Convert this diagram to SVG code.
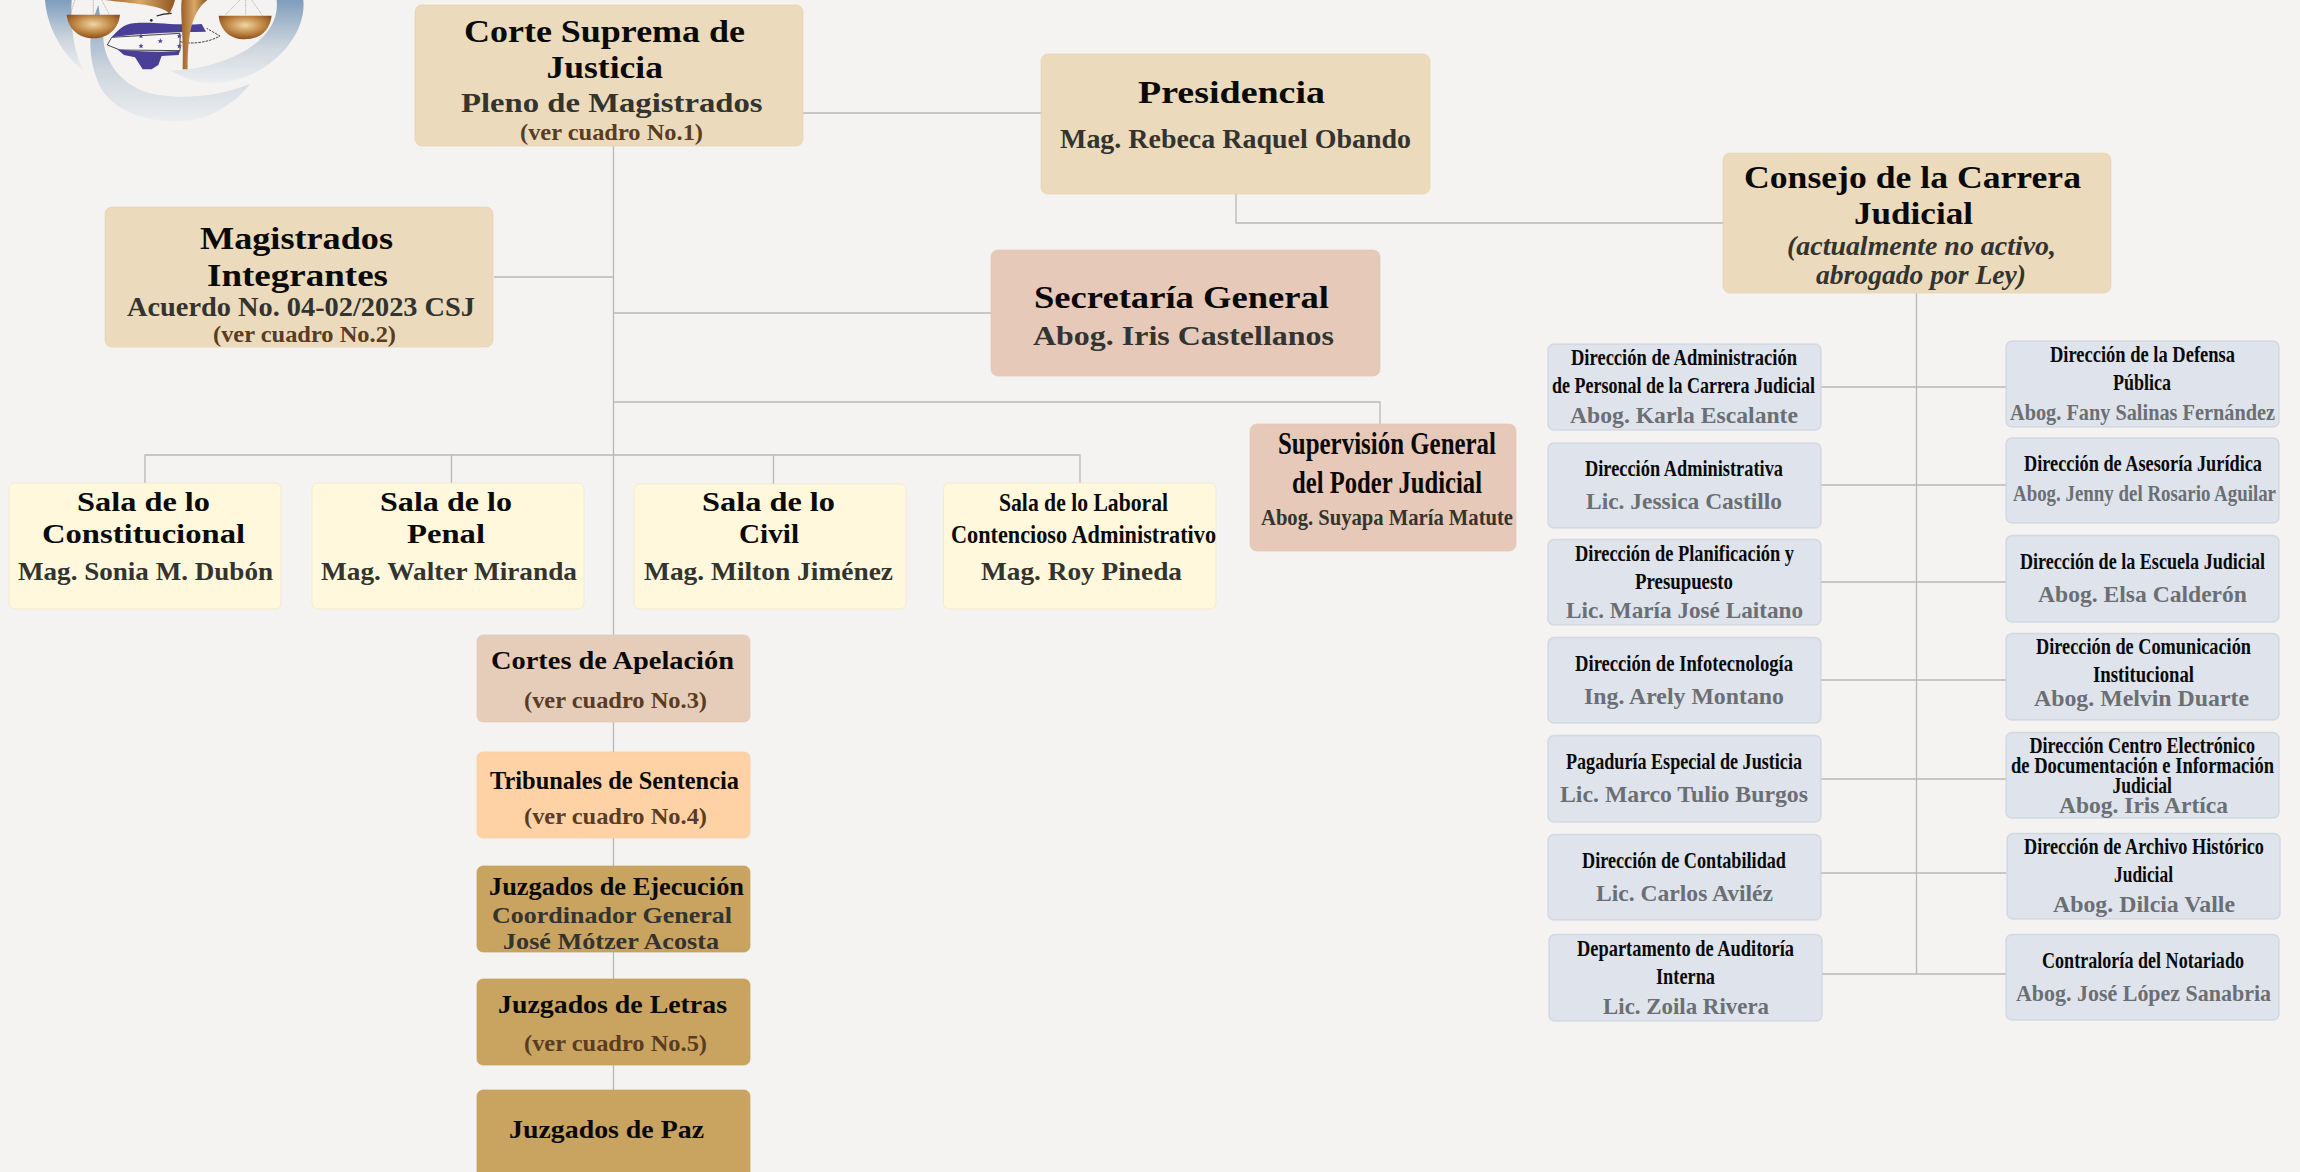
<svg xmlns="http://www.w3.org/2000/svg" width="2300" height="1172" viewBox="0 0 2300 1172">
<style>
text{font-family:"Liberation Serif",serif;font-weight:700}
.box{stroke-width:1;stroke-opacity:.7}
.tan{fill:#ebdabb;stroke:#e5d3b0}
.rose{fill:#e6c9b8;stroke:#e2c5b4}
.yel{fill:#fff8dc;stroke:#efe6c4}
.cor{fill:#e6cdb9;stroke:#e2c9b5}
.tri{fill:#ffd2a6;stroke:#f9cc9f}
.juz{fill:#c9a360;stroke:#c49e5b}
.blu{fill:#dfe4ec;stroke:#c9d0da;stroke-width:1.5}
.t{fill:#0a0a0a}
.xl{font-size:32px}.l{font-size:28px}.m{font-size:26px}.s{font-size:23px}
.sub{fill:#333330}
.ver{fill:#5a3c22}
.nm{fill:#6b6f74}
.it{font-style:italic;fill:#333330;font-size:27px}
#connectors path{fill:none;stroke:#b8b8b8;stroke-width:1.3}
</style>
<defs>
<linearGradient id="sw" x1="0" y1="0" x2="0" y2="1"><stop offset="0" stop-color="#7f9dbd"/><stop offset="0.55" stop-color="#ccd5dd"/><stop offset="1" stop-color="#eceef0"/></linearGradient>
<radialGradient id="pan" cx="0.5" cy="0.4" r="0.6"><stop offset="0" stop-color="#f0d5a4"/><stop offset="0.6" stop-color="#bd8340"/><stop offset="1" stop-color="#8a4f1e"/></radialGradient>
<linearGradient id="br" x1="0" y1="0" x2="1" y2="0"><stop offset="0" stop-color="#9a5f26"/><stop offset="0.5" stop-color="#d9a766"/><stop offset="1" stop-color="#8f5522"/></linearGradient>
<polygon id="st" points="0,-8 2.2,-2.5 8,-2.5 3.4,1 5,7 0,3.5 -5,7 -3.4,1 -8,-2.5 -2.2,-2.5" fill="#4a3f96"/>
</defs>
<rect width="2300" height="1172" fill="#f4f3f1"/>

<g id="logo" transform="translate(20,0) scale(0.3333)">
<path d="M75,0C80,80 130,170 192,212C165,170 150,80 155,0Z" fill="url(#sw)"/>
<path d="M770,0H850C862,110 740,250 570,250C520,250 480,225 450,212C600,210 785,130 770,0Z" fill="url(#sw)"/>
<path d="M235,15C205,90 200,170 240,260C290,350 420,375 520,360C600,345 660,290 690,252C600,290 470,300 390,280C290,250 250,170 250,110Z" fill="url(#sw)"/>
<path d="M165,0L150,44M220,0V44M245,0L268,44M660,0L615,46M677,0V46M695,0L727,46" stroke="#777" stroke-width="1.5" stroke-dasharray="3 2" fill="none"/>
<path d="M480,125C520,135 570,125 600,108L560,85" fill="none" stroke="#222" stroke-width="2.5" stroke-dasharray="8 3"/>
<path d="M262,135L275,112L480,100V152L300,150Z" fill="#f7f6f4" stroke="#222" stroke-width="2.5"/>
<path d="M275,112C295,90 312,72 340,70C400,64 460,78 545,72L558,95C470,96 370,98 275,112Z" fill="#4a3f96"/>
<path d="M292,148C350,155 420,158 480,152L476,165L425,168L415,195L395,208L368,208L345,172L312,165Z" fill="#4a3f96"/>
<use href="#st" x="363" y="108"/><use href="#st" x="363" y="138"/><use href="#st" x="421" y="123"/><use href="#st" x="478" y="108"/><use href="#st" x="478" y="138"/>
<path d="M410,48c15,-6 25,-8 45,-8" fill="none" stroke="#222" stroke-width="4"/>
<circle cx="394" cy="61" r="4" fill="#222"/>
<path d="M255,0H465C460,20 452,35 448,42C435,15 330,10 255,0Z" fill="url(#br)"/>
<path d="M488,208H503C503,120 510,40 562,0H485C480,40 492,120 488,208Z" fill="url(#br)"/>
<path d="M140,44H300C295,90 260,115 220,115C180,115 145,90 140,44Z" fill="url(#pan)"/>
<path d="M596,47H755C750,90 720,118 675,118C630,118 600,90 596,47Z" fill="url(#pan)"/>
</g>

<g id="connectors">
<path d="M613.5,146V1090"/>
<path d="M803,113H1041"/>
<path d="M494,277H613"/>
<path d="M613,313H991"/>
<path d="M613,402H1380V424"/>
<path d="M145,483V455H1080V483"/>
<path d="M451.5,455V483M773.5,455V484"/>
<path d="M1236,194V223H1723"/>
<path d="M1916.5,293V974"/>
<path d="M1821,387H2006M1821,485H2006M1821,582H2006M1821,680H2006M1821,779H2006M1821,873H2006M1822,974H2006"/>
</g>

<g id="corte"><rect class="box tan" x="415" y="5" width="388" height="141" rx="7"/>
<text class="t xl" x="464" y="42" textLength="281" lengthAdjust="spacingAndGlyphs">Corte Suprema de</text>
<text class="t xl" x="546.5" y="78" textLength="116.5" lengthAdjust="spacingAndGlyphs">Justicia</text>
<text class="sub l" x="461" y="112" textLength="301.5" lengthAdjust="spacingAndGlyphs">Pleno de Magistrados</text>
<text class="ver s" x="520" y="140" textLength="183" lengthAdjust="spacingAndGlyphs">(ver cuadro No.1)</text></g>

<g id="presidencia"><rect class="box tan" x="1041" y="54" width="389" height="140" rx="7"/>
<text class="t xl" x="1138" y="103" textLength="187" lengthAdjust="spacingAndGlyphs">Presidencia</text>
<text class="sub l" x="1060" y="148" textLength="351" lengthAdjust="spacingAndGlyphs">Mag. Rebeca Raquel Obando</text></g>

<g id="consejo"><rect class="box tan" x="1723" y="153" width="388" height="140" rx="7"/>
<text class="t xl" x="1744" y="188" textLength="337" lengthAdjust="spacingAndGlyphs">Consejo de la Carrera</text>
<text class="t xl" x="1854" y="224" textLength="119" lengthAdjust="spacingAndGlyphs">Judicial</text>
<text class="it" x="1787" y="255" textLength="269" lengthAdjust="spacingAndGlyphs">(actualmente no activo,</text>
<text class="it" x="1816" y="284" textLength="210" lengthAdjust="spacingAndGlyphs">abrogado por Ley)</text></g>

<g id="magistrados"><rect class="box tan" x="105" y="207" width="388" height="140" rx="7"/>
<text class="t xl" x="200" y="249" textLength="193" lengthAdjust="spacingAndGlyphs">Magistrados</text>
<text class="t xl" x="207" y="286" textLength="181" lengthAdjust="spacingAndGlyphs">Integrantes</text>
<text class="sub l" x="127" y="316" textLength="348" lengthAdjust="spacingAndGlyphs">Acuerdo No. 04-02/2023 CSJ</text>
<text class="ver s" x="213" y="342" textLength="183" lengthAdjust="spacingAndGlyphs">(ver cuadro No.2)</text></g>

<g id="secretaria"><rect class="box rose" x="991" y="250" width="389" height="126" rx="7"/>
<text class="t xl" x="1034" y="308" textLength="295" lengthAdjust="spacingAndGlyphs">Secretaría General</text>
<text class="sub l" x="1033" y="345" textLength="301" lengthAdjust="spacingAndGlyphs">Abog. Iris Castellanos</text></g>

<g id="supervision"><rect class="box rose" x="1250" y="424" width="266" height="127" rx="7"/>
<text class="t xl" x="1278" y="454" textLength="218" lengthAdjust="spacingAndGlyphs">Supervisión General</text>
<text class="t xl" x="1292" y="493" textLength="190" lengthAdjust="spacingAndGlyphs">del Poder Judicial</text>
<text class="sub s" x="1261" y="525" textLength="252" lengthAdjust="spacingAndGlyphs">Abog. Suyapa María Matute</text></g>

<g id="sala-constitucional"><rect class="box yel" x="9" y="483" width="272" height="126" rx="6"/>
<text class="t l" x="77" y="511" textLength="133" lengthAdjust="spacingAndGlyphs">Sala de lo</text>
<text class="t l" x="42" y="543" textLength="203" lengthAdjust="spacingAndGlyphs">Constitucional</text>
<text class="sub m" x="18" y="580" textLength="255" lengthAdjust="spacingAndGlyphs">Mag. Sonia M. Dubón</text></g>

<g id="sala-penal"><rect class="box yel" x="312" y="483" width="272" height="126" rx="6"/>
<text class="t l" x="380" y="511" textLength="132" lengthAdjust="spacingAndGlyphs">Sala de lo</text>
<text class="t l" x="407" y="543" textLength="78" lengthAdjust="spacingAndGlyphs">Penal</text>
<text class="sub m" x="321" y="580" textLength="256" lengthAdjust="spacingAndGlyphs">Mag. Walter Miranda</text></g>

<g id="sala-civil"><rect class="box yel" x="634" y="484" width="272" height="125" rx="6"/>
<text class="t l" x="702" y="511" textLength="133" lengthAdjust="spacingAndGlyphs">Sala de lo</text>
<text class="t l" x="739" y="543" textLength="60" lengthAdjust="spacingAndGlyphs">Civil</text>
<text class="sub m" x="644" y="580" textLength="249" lengthAdjust="spacingAndGlyphs">Mag. Milton Jiménez</text></g>

<g id="sala-laboral"><rect class="box yel" x="943.5" y="483" width="272.5" height="126" rx="6"/>
<text class="t m" x="999" y="511" textLength="169" lengthAdjust="spacingAndGlyphs">Sala de lo Laboral</text>
<text class="t m" x="951" y="543" textLength="265" lengthAdjust="spacingAndGlyphs">Contencioso Administrativo</text>
<text class="sub m" x="981" y="580" textLength="201" lengthAdjust="spacingAndGlyphs">Mag. Roy Pineda</text></g>

<g id="cortes-apelacion"><rect class="box cor" x="477" y="635" width="273" height="87" rx="6"/>
<text class="t m" x="491" y="669" textLength="243" lengthAdjust="spacingAndGlyphs">Cortes de Apelación</text>
<text class="ver s" x="524" y="708" textLength="183" lengthAdjust="spacingAndGlyphs">(ver cuadro No.3)</text></g>

<g id="tribunales"><rect class="box tri" x="477" y="752" width="273" height="86" rx="6"/>
<text class="t m" x="490" y="789" textLength="249" lengthAdjust="spacingAndGlyphs">Tribunales de Sentencia</text>
<text class="ver s" x="524" y="824" textLength="183" lengthAdjust="spacingAndGlyphs">(ver cuadro No.4)</text></g>

<g id="juzgados-ejecucion"><rect class="box juz" x="477" y="866" width="273" height="86" rx="6"/>
<text class="t m" x="489" y="895" textLength="255" lengthAdjust="spacingAndGlyphs">Juzgados de Ejecución</text>
<text class="sub s" x="492" y="923" textLength="240" lengthAdjust="spacingAndGlyphs">Coordinador General</text>
<text class="sub s" x="503" y="949" textLength="216" lengthAdjust="spacingAndGlyphs">José Mótzer Acosta</text></g>

<g id="juzgados-letras"><rect class="box juz" x="477" y="979" width="273" height="86" rx="6"/>
<text class="t m" x="498" y="1013" textLength="229" lengthAdjust="spacingAndGlyphs">Juzgados de Letras</text>
<text class="ver s" x="524" y="1051" textLength="183" lengthAdjust="spacingAndGlyphs">(ver cuadro No.5)</text></g>

<g id="juzgados-paz"><rect class="box juz" x="477" y="1090" width="273" height="100" rx="6"/>
<text class="t m" x="509" y="1138" textLength="195" lengthAdjust="spacingAndGlyphs">Juzgados de Paz</text></g>

<g id="dir-personal"><rect class="box blu" x="1548" y="344" width="273" height="86" rx="6"/>
<text class="t s" x="1571" y="365" textLength="226" lengthAdjust="spacingAndGlyphs">Dirección de Administración</text>
<text class="t s" x="1552" y="393" textLength="263" lengthAdjust="spacingAndGlyphs">de Personal de la Carrera Judicial</text>
<text class="nm s" x="1570" y="423" textLength="228" lengthAdjust="spacingAndGlyphs">Abog. Karla Escalante</text></g>

<g id="dir-administrativa"><rect class="box blu" x="1548" y="443" width="273" height="85" rx="6"/>
<text class="t s" x="1585" y="476" textLength="198" lengthAdjust="spacingAndGlyphs">Dirección Administrativa</text>
<text class="nm s" x="1586" y="509" textLength="196" lengthAdjust="spacingAndGlyphs">Lic. Jessica Castillo</text></g>

<g id="dir-planificacion"><rect class="box blu" x="1548" y="539.5" width="273" height="85.5" rx="6"/>
<text class="t s" x="1575" y="561" textLength="219" lengthAdjust="spacingAndGlyphs">Dirección de Planificación y</text>
<text class="t s" x="1635" y="589" textLength="98" lengthAdjust="spacingAndGlyphs">Presupuesto</text>
<text class="nm s" x="1566" y="618" textLength="237" lengthAdjust="spacingAndGlyphs">Lic. María José Laitano</text></g>

<g id="dir-infotecnologia"><rect class="box blu" x="1548" y="637.5" width="273" height="85.5" rx="6"/>
<text class="t s" x="1575" y="671" textLength="218" lengthAdjust="spacingAndGlyphs">Dirección de Infotecnología</text>
<text class="nm s" x="1584" y="704" textLength="200" lengthAdjust="spacingAndGlyphs">Ing. Arely Montano</text></g>

<g id="pagaduria"><rect class="box blu" x="1548" y="735.5" width="273" height="86.5" rx="6"/>
<text class="t s" x="1566" y="769" textLength="236" lengthAdjust="spacingAndGlyphs">Pagaduría Especial de Justicia</text>
<text class="nm s" x="1560" y="802" textLength="248" lengthAdjust="spacingAndGlyphs">Lic. Marco Tulio Burgos</text></g>

<g id="dir-contabilidad"><rect class="box blu" x="1548" y="834.5" width="273" height="85.5" rx="6"/>
<text class="t s" x="1582" y="868" textLength="204" lengthAdjust="spacingAndGlyphs">Dirección de Contabilidad</text>
<text class="nm s" x="1596" y="901" textLength="177" lengthAdjust="spacingAndGlyphs">Lic. Carlos Aviléz</text></g>

<g id="dep-auditoria"><rect class="box blu" x="1549" y="934.5" width="273" height="86.5" rx="6"/>
<text class="t s" x="1577" y="956" textLength="217" lengthAdjust="spacingAndGlyphs">Departamento de Auditoría</text>
<text class="t s" x="1656" y="984" textLength="59" lengthAdjust="spacingAndGlyphs">Interna</text>
<text class="nm s" x="1603" y="1014" textLength="166" lengthAdjust="spacingAndGlyphs">Lic. Zoila Rivera</text></g>

<g id="dir-defensa"><rect class="box blu" x="2006" y="341" width="273" height="86" rx="6"/>
<text class="t s" x="2050" y="362" textLength="185" lengthAdjust="spacingAndGlyphs">Dirección de la Defensa</text>
<text class="t s" x="2113" y="390" textLength="58" lengthAdjust="spacingAndGlyphs">Pública</text>
<text class="nm s" x="2010" y="420" textLength="265" lengthAdjust="spacingAndGlyphs">Abog. Fany Salinas Fernández</text></g>

<g id="dir-asesoria"><rect class="box blu" x="2006" y="438" width="273" height="85" rx="6"/>
<text class="t s" x="2024" y="471" textLength="238" lengthAdjust="spacingAndGlyphs">Dirección de Asesoría Jurídica</text>
<text class="nm s" x="2013" y="501" textLength="263" lengthAdjust="spacingAndGlyphs">Abog. Jenny del Rosario Aguilar</text></g>

<g id="dir-escuela"><rect class="box blu" x="2006" y="535.5" width="273" height="86.5" rx="6"/>
<text class="t s" x="2020" y="569" textLength="245" lengthAdjust="spacingAndGlyphs">Dirección de la Escuela Judicial</text>
<text class="nm s" x="2038" y="602" textLength="209" lengthAdjust="spacingAndGlyphs">Abog. Elsa Calderón</text></g>

<g id="dir-comunicacion"><rect class="box blu" x="2006" y="633.5" width="273" height="86.5" rx="6"/>
<text class="t s" x="2036" y="654" textLength="215" lengthAdjust="spacingAndGlyphs">Dirección de Comunicación</text>
<text class="t s" x="2093" y="682" textLength="101" lengthAdjust="spacingAndGlyphs">Institucional</text>
<text class="nm s" x="2034" y="706" textLength="215" lengthAdjust="spacingAndGlyphs">Abog. Melvin Duarte</text></g>

<g id="dir-centro"><rect class="box blu" x="2006" y="732.5" width="273" height="85.5" rx="6"/>
<text class="t s" x="2029.5" y="753" textLength="225.5" lengthAdjust="spacingAndGlyphs">Dirección Centro Electrónico</text>
<text class="t s" x="2011" y="773" textLength="263" lengthAdjust="spacingAndGlyphs">de Documentación e Información</text>
<text class="t s" x="2112.5" y="793" textLength="59.5" lengthAdjust="spacingAndGlyphs">Judicial</text>
<text class="nm s" x="2059" y="813" textLength="169" lengthAdjust="spacingAndGlyphs">Abog. Iris Artíca</text></g>

<g id="dir-archivo"><rect class="box blu" x="2007" y="833.5" width="273" height="85.5" rx="6"/>
<text class="t s" x="2024" y="854" textLength="240" lengthAdjust="spacingAndGlyphs">Dirección de Archivo Histórico</text>
<text class="t s" x="2114" y="882" textLength="59" lengthAdjust="spacingAndGlyphs">Judicial</text>
<text class="nm s" x="2053" y="912" textLength="182" lengthAdjust="spacingAndGlyphs">Abog. Dilcia Valle</text></g>

<g id="contraloria"><rect class="box blu" x="2006" y="934.5" width="273" height="85.5" rx="6"/>
<text class="t s" x="2042" y="968" textLength="202" lengthAdjust="spacingAndGlyphs">Contraloría del Notariado</text>
<text class="nm s" x="2016" y="1001" textLength="255" lengthAdjust="spacingAndGlyphs">Abog. José López Sanabria</text></g>
</svg>
